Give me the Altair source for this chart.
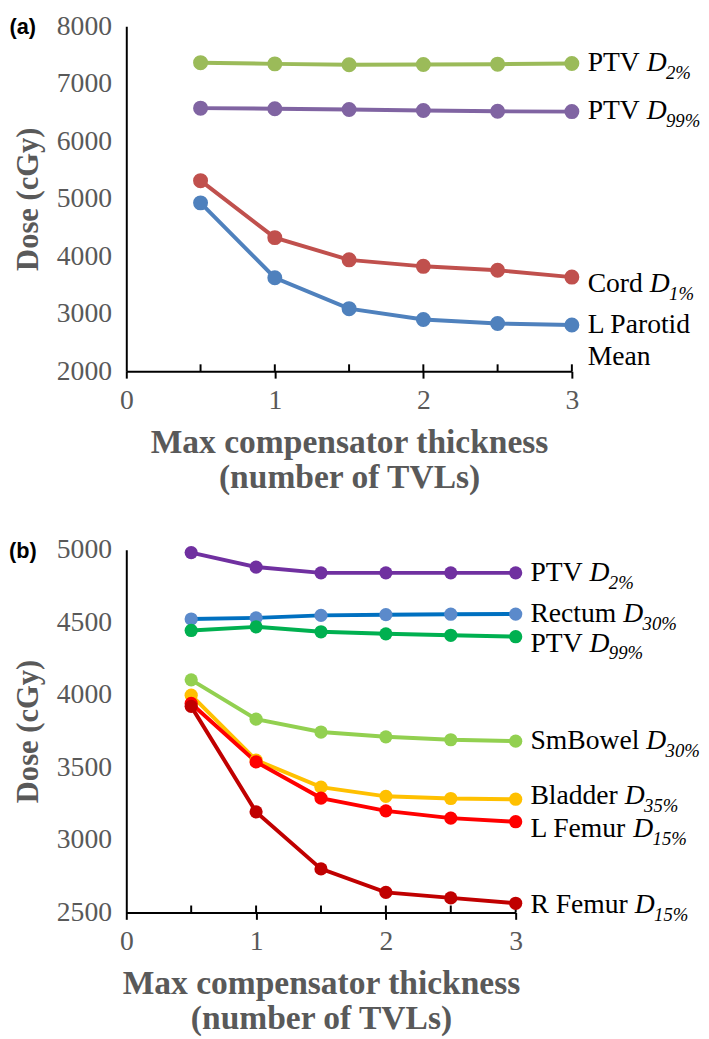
import altair as alt
import pandas as pd

# ---------------- data ----------------
x_vals = [0.5, 1.0, 1.5, 2.0, 2.5, 3.0]
x_tick_positions = [0.5, 1.0, 1.5, 2.0, 2.5, 3.0]
x_label_values = [0, 1, 2, 3]

# panel (a)
a_names = ["PTV D2%", "PTV D99%", "Cord D1%", "L Parotid Mean"]
a_ptv_d2 = [7366, 7345, 7330, 7335, 7340, 7350]
a_ptv_d99 = [6575, 6565, 6550, 6535, 6520, 6515]
a_cord_d1 = [5314, 4323, 3937, 3824, 3756, 3637]
a_lparotid_mean = [4928, 3626, 3088, 2900, 2830, 2805]
a_y_ticks = [2000, 3000, 4000, 5000, 6000, 7000, 8000]

# panel (b)
b_names = ["PTV D2%", "Rectum D30%", "PTV D99%", "SmBowel D30%",
           "Bladder D35%", "L Femur D15%", "R Femur D15%"]
b_ptv_d2 = [4980, 4880, 4840, 4840, 4840, 4840]
b_rectum_d30 = [4522, 4530, 4547, 4552, 4555, 4556]
b_ptv_d99 = [4443, 4468, 4434, 4420, 4410, 4400]
b_smbowel_d30 = [4103, 3832, 3743, 3710, 3690, 3680]
b_bladder_d35 = [3997, 3550, 3363, 3300, 3285, 3280]
b_lfemur_d15 = [3940, 3537, 3288, 3200, 3150, 3125]
b_rfemur_d15 = [3920, 3193, 2800, 2638, 2600, 2563]
b_y_ticks = [2500, 3000, 3500, 4000, 4500, 5000]

# label pieces: (prefix, subscript, second line)
a_label_parts = [("PTV ", "2%", None), ("PTV ", "99%", None),
                 ("Cord ", "1%", None), ("L Parotid", None, "Mean")]
b_label_parts = [("PTV ", "2%", None), ("Rectum ", "30%", None),
                 ("PTV ", "99%", None), ("SmBowel ", "30%", None),
                 ("Bladder ", "35%", None), ("L Femur ", "15%", None),
                 ("R Femur ", "15%", None)]

# ---------------- styles ----------------
a_line_colors = ["#9BBB59", "#8064A2", "#C0504D", "#4F81BD"]
a_fill_colors = ["#9BBB59", "#8064A2", "#C0504D", "#4F81BD"]
b_line_colors = ["#7030A0", "#0070C0", "#00B050", "#92D050", "#FFC000", "#FF0000", "#C00000"]
b_fill_colors = ["#7030A0", "#5B8ACB", "#00B050", "#92D050", "#FFC000", "#FF0000", "#C00000"]
a_label_dy = [0, 0, 7, 0]
b_label_dy = [0, 0, 7, 0, -3, 8, 2]

SERIF = "Liberation Serif"
GRAY = "#595959"
LABEL_SIZE = 28
SUB_SIZE = 19

W = {' ': 250, 'P': 556, 'T': 611, 'V': 722, 'C': 667, 'o': 500, 'r': 333, 'd': 500,
     'L': 611, 'a': 444, 't': 278, 'i': 278, 'M': 889, 'e': 444, 'n': 500, 'R': 667,
     'c': 444, 'u': 500, 'm': 778, 'S': 556, 'B': 667, 'w': 722, 'l': 278, 'F': 556,
     'b': 500}


def text_width(s, size):
    return sum(W.get(ch, 500) for ch in s) / 1000.0 * size


def panel(key, names, series, line_colors, fill_colors, y_ticks, label_parts, label_dy,
          width, height, tag, marker_size, dx0):
    rows = []
    for n, vals in zip(names, series):
        for xv, yv in zip(x_vals, vals):
            rows.append({"x": xv, "y": yv, key: n})
    df = pd.DataFrame(rows)

    xscale = alt.Scale(domain=[0, 3], nice=False)
    yscale = alt.Scale(domain=[y_ticks[0], y_ticks[-1]], nice=False, zero=False)
    xaxis = alt.Axis(values=x_label_values, format="d", tickSize=7, tickWidth=2,
                     tickColor="black", domainColor="black", domainWidth=2,
                     labelFont=SERIF, labelFontSize=28, labelColor=GRAY,
                     labelPadding=9, labelFlush=False, grid=False,
                     title=["Max compensator thickness", "(number of TVLs)"],
                     titleFont=SERIF, titleFontSize=34, titleFontWeight="bold",
                     titleColor=GRAY, titlePadding=11, titleLineHeight=36)
    yaxis = alt.Axis(values=y_ticks, format="d", ticks=False, domainColor="black",
                     domainWidth=2, labelFont=SERIF, labelFontSize=28, labelColor=GRAY,
                     labelPadding=15, grid=False, title="Dose (cGy)",
                     titleFont=SERIF, titleFontSize=31, titleFontWeight="bold",
                     titleColor=GRAY, titlePadding=12)

    base = alt.Chart(df)
    lines = base.mark_line(strokeWidth=4).encode(
        x=alt.X("x:Q", scale=xscale, axis=xaxis),
        y=alt.Y("y:Q", scale=yscale, axis=yaxis),
        stroke=alt.Stroke(f"{key}:N", scale=alt.Scale(domain=names, range=line_colors),
                          legend=None),
        order=alt.Order("x:Q"),
    )
    points = base.mark_point(size=marker_size, filled=True, opacity=1, shape="circle").encode(
        x=alt.X("x:Q", scale=xscale),
        y=alt.Y("y:Q", scale=yscale),
        fill=alt.Fill(f"{key}:N", scale=alt.Scale(domain=names, range=fill_colors),
                      legend=None),
    )

    ticks_df = pd.DataFrame({"x": x_tick_positions})
    inner_ticks = alt.Chart(ticks_df).mark_rule(color="black", strokeWidth=2).encode(
        x=alt.X("x:Q", scale=xscale),
        y=alt.value(height), y2=alt.value(height - 7),
    )

    layers = [lines, inner_ticks, points]

    for vals, (pre, sub, line2), dy in zip(series, label_parts, label_dy):
        ldf = pd.DataFrame({"x": [3.0], "y": [vals[-1]], "pre": [pre],
                            "D": ["D"], "sub": [sub if sub else ""],
                            "l2": [line2 if line2 else ""]})
        lb = alt.Chart(ldf)
        enc = dict(x=alt.X("x:Q", scale=xscale), y=alt.Y("y:Q", scale=yscale))
        layers.append(lb.mark_text(font=SERIF, fontSize=LABEL_SIZE, align="left",
                                   baseline="middle", dx=dx0, dy=dy, color="black")
                      .encode(text="pre:N", **enc))
        if sub:
            wpre = text_width(pre, LABEL_SIZE)
            layers.append(lb.mark_text(font=SERIF, fontSize=LABEL_SIZE, fontStyle="italic",
                                       align="left", baseline="middle",
                                       dx=dx0 + wpre, dy=dy, color="black")
                          .encode(text="D:N", **enc))
            layers.append(lb.mark_text(font=SERIF, fontSize=SUB_SIZE, fontStyle="italic",
                                       align="left", baseline="middle",
                                       dx=dx0 + wpre + 0.70 * LABEL_SIZE, dy=dy + 10,
                                       color="black")
                          .encode(text="sub:N", **enc))
        if line2:
            layers.append(lb.mark_text(font=SERIF, fontSize=LABEL_SIZE, align="left",
                                       baseline="middle", dx=dx0, dy=dy + 33,
                                       color="black")
                          .encode(text="l2:N", **enc))

    tag_df = pd.DataFrame({"t": [tag]})
    layers.append(alt.Chart(tag_df).mark_text(font="Liberation Sans", fontWeight="bold",
                                              fontSize=22, align="center",
                                              baseline="middle", color="black")
                  .encode(x=alt.value(-105), y=alt.value(1), text="t:N"))

    return alt.layer(*layers).properties(width=width, height=height)


panel_a = panel("series_a", a_names, [a_ptv_d2, a_ptv_d99, a_cord_d1, a_lparotid_mean],
                a_line_colors, a_fill_colors, a_y_ticks, a_label_parts, a_label_dy,
                452, 350, "(a)", 230, 16)
panel_b = panel("series_b", b_names, [b_ptv_d2, b_rectum_d30, b_ptv_d99, b_smbowel_d30,
                          b_bladder_d35, b_lfemur_d15, b_rfemur_d15],
                b_line_colors, b_fill_colors, b_y_ticks, b_label_parts, b_label_dy,
                395, 368, "(b)", 180, 15)

chart = alt.vconcat(panel_a, panel_b, spacing=42).resolve_scale(
    stroke="independent", fill="independent"
).properties(
    padding={"left": 0, "top": -3, "right": 0, "bottom": 0}
).configure_view(stroke=None)

chart.save("out.html", embed_options={"renderer": "svg", "actions": False})
